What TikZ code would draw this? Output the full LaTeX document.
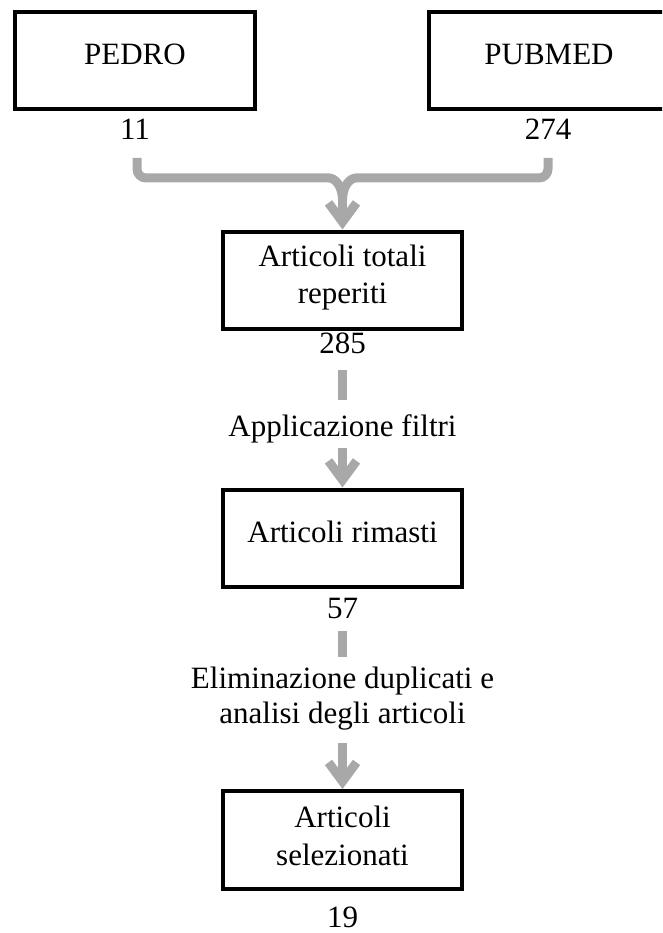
\documentclass[tikz,border=0pt]{standalone}
\usepackage{fontspec}
\setmainfont{Liberation Serif}
\usetikzlibrary{arrows.meta}
\definecolor{flowgray}{RGB}{168,168,168}
\begin{document}
\begin{tikzpicture}[x=1pt,y=-1pt,
  boxnode/.style={draw=black,line width=4pt,minimum width=240pt,minimum height=97pt,inner sep=0pt},
  txt/.style={font=\fontsize{31}{37}\selectfont,inner sep=0pt,anchor=base},
  bar/.style={draw=flowgray,line width=9pt},
  flowarrow/.style={bar,-{Straight Barb[length=19pt,width=28pt]}}]
\useasboundingbox (0,0) rectangle (662,933);
\clip (0,0) rectangle (662,933);
% source boxes
\node[boxnode] (pedro) at (135,60.5) {};
\node[txt] (tpedro) at (135,65) {PEDRO};
\node[boxnode] (pubmed) at (549,60.5) {};
\node[txt] (tpubmed) at (549,65) {PUBMED};
\node[txt] (n11) at (135,140) {11};
\node[txt] (n274) at (548,140) {274};
% bracket
\coordinate (bl) at (137,158);
\coordinate (br) at (548,158);
\coordinate (jn) at (342.5,200);
\draw[bar,rounded corners=9pt] (bl) |- (320,178) .. controls (335,178) and (342.5,186) .. (jn);
\draw[bar,rounded corners=9pt] (br) |- (365,178) .. controls (350,178) and (342.5,186) .. (jn);
% box 2
\node[boxnode,minimum width=239pt] (tot) at (342.5,280) {};
\node[txt] (ttot1) at (342.5,266) {Articoli totali};
\node[txt] (ttot2) at (342.5,303) {reperiti};
\draw[flowarrow] (jn) -- (tot.north);
\node[txt] (n285) at (342.5,353) {285};
\coordinate (d1a) at (342.5,370);
\coordinate (d1b) at (342.5,400);
\draw[bar] (d1a) -- (d1b);
\node[txt] (filt) at (342.5,436) {Applicazione filtri};
% box 3
\node[boxnode,minimum width=239pt] (rim) at (342.5,538) {};
\node[txt] (trim) at (342.5,542) {Articoli rimasti};
\coordinate (a1) at (342.5,448);
\draw[flowarrow] (a1) -- (rim.north);
\node[txt] (n57) at (342.5,618) {57};
\coordinate (d2a) at (342.5,631);
\coordinate (d2b) at (342.5,657);
\draw[bar] (d2a) -- (d2b);
\node[txt] (elim1) at (342.5,688) {Eliminazione duplicati e};
\node[txt] (elim2) at (342.5,723) {analisi degli articoli};
% box 4
\node[boxnode,minimum width=239pt,minimum height=98pt] (sel) at (342.5,840) {};
\node[txt] (tsel1) at (342.5,827) {Articoli};
\node[txt] (tsel2) at (342.5,865) {selezionati};
\coordinate (a2) at (342.5,743);
\draw[flowarrow] (a2) -- (sel.north);
\node[txt] (n19) at (342.5,927) {19};
\end{tikzpicture}
\end{document}
